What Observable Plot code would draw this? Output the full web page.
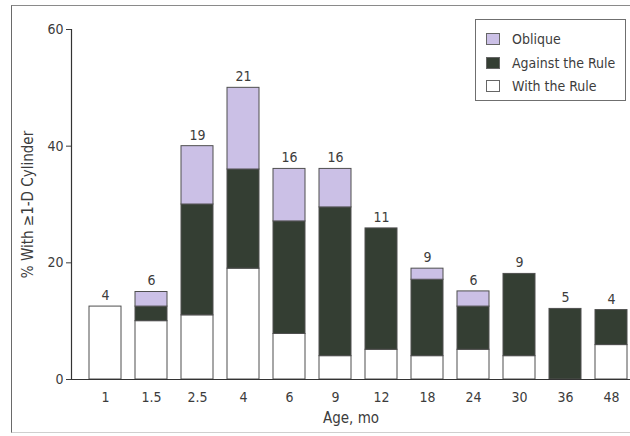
<!DOCTYPE html>
<html>
<head>
<meta charset="utf-8">
<script src="https://cdn.jsdelivr.net/npm/d3@7"></script>
<script src="https://cdn.jsdelivr.net/npm/@observablehq/plot@0.6"></script>
<style>
  html, body { margin: 0; padding: 0; background: #fff; }
  #wrap { position: relative; width: 630px; height: 436px; overflow: hidden;
          font-family: "Liberation Sans Narrow", "DejaVu Sans Condensed", "Liberation Sans", sans-serif; color: #3c3c3c; }
  #border { position: absolute; left: 11px; top: 5px; width: 640px; height: 426px;
            border-left: 1.5px solid #6a6a6a; border-top: 1.5px solid #8a8a8a; border-bottom: 1px solid #cfcfcf; }
  #chart { position: absolute; left: 0; top: 0; }
  #legend { position: absolute; left: 475px; top: 19px; width: 151px; height: 82px;
            border: 1px solid #6f6f6f; background: #fff; box-sizing: border-box; }
  .item { position: absolute; left: 10px; height: 16px; display: flex; align-items: center; font-size: 14px; }
  .sw { width: 14px; height: 12px; box-sizing: border-box; border: 1px solid #666; margin-right: 12px; }
</style>
</head>
<body>
<div id="wrap">
  <div id="border"></div>
  <div id="chart"></div>
  <div id="legend"></div>
</div>
<script>
// Age groups (months) and % of infants with ≥1-D cylinder, split by axis type
const ages = ["1", "1.5", "2.5", "4", "6", "9", "12", "18", "24", "30", "36", "48"];
const withTheRule    = [12.5, 10, 11, 19, 7.8, 4, 5.1, 4, 5.1, 4, 0, 5.9];
const againstTheRule = [0, 2.5, 19, 17, 19.3, 25.5, 20.8, 13.1, 7.4, 14.1, 12.1, 6];
const obliqueAxis    = [0, 2.5, 10, 14, 9, 6.6, 0, 1.9, 2.6, 0, 0, 0];
const counts         = [4, 6, 19, 21, 16, 16, 11, 9, 6, 9, 5, 4];

const types = ["With the Rule", "Against the Rule", "Oblique"];
const colors = ["#ffffff", "#343e33", "#cbc0e6"];
const series = [withTheRule, againstTheRule, obliqueAxis];

const rows = ages.flatMap((age, i) => types.map((type, k) => ({age, type, value: series[k][i]})));
const totals = ages.map((age, i) => ({age, total: series.reduce((s, arr) => s + arr[i], 0), n: counts[i]}));

const font = `"Liberation Sans Narrow", "DejaVu Sans Condensed", "Liberation Sans", sans-serif`;

const chart = Plot.plot({
  width: 630,
  height: 436,
  marginLeft: 71,
  marginRight: 0,
  marginTop: 29,
  marginBottom: 57,
  style: {fontFamily: font, fontSize: "14px", color: "#3c3c3c", background: "transparent", overflow: "visible"},
  x: {domain: ages, paddingInner: 0.3, paddingOuter: 0.172, align: 0.875},
  y: {domain: [0, 60]},
  color: {domain: types, range: colors},
  marks: [
    Plot.barY(rows, {x: "age", y: "value", fill: "type", order: types, stroke: "#4f4f4f", strokeWidth: 1, inset: 0}),
    Plot.frame({anchor: "left", stroke: "#333", strokeWidth: 1.2}),
    Plot.ruleY([0], {stroke: "#333", strokeWidth: 1.2}),
    Plot.axisY({ticks: [0, 20, 40, 60], tickSize: 5, tickPadding: 3, label: null, fontSize: 14}),
    Plot.axisX({tickSize: 0, tickPadding: 13, label: null, fontSize: 14}),
    Plot.text(totals, {x: "age", y: "total", text: "n", dy: -11, fontSize: 14, fill: "#3c3c3c"}),
    Plot.text(["Age, mo"], {frameAnchor: "bottom", dy: 43, fontSize: 15, fill: "#3c3c3c"}),
    Plot.text(["% With ≥1-D Cylinder"], {frameAnchor: "left", textAnchor: "middle", dx: -43, rotate: -90, fontSize: 15, fill: "#3c3c3c"})
  ]
});
document.getElementById("chart").appendChild(chart);

// Legend, top entry first
const legend = document.getElementById("legend");
[["Oblique", 2], ["Against the Rule", 1], ["With the Rule", 0]].forEach(([label, k], j) => {
  const item = document.createElement("div");
  item.className = "item";
  item.style.top = (11 + j * 23.5) + "px";
  const sw = document.createElement("span");
  sw.className = "sw";
  sw.style.background = colors[k];
  item.appendChild(sw);
  item.appendChild(document.createTextNode(label));
  legend.appendChild(item);
});
</script>
</body>
</html>
